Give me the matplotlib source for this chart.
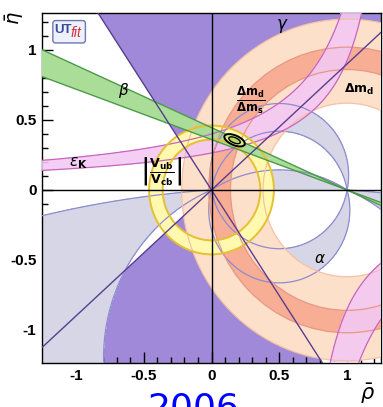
import numpy as np
import matplotlib.pyplot as plt
from matplotlib.patches import Wedge, Ellipse, FancyBboxPatch

# constraint values
gamma_deg = [42.0, 123.5]            # gamma band edges, angle seen from (0,0)
beta_deg = [19.8, 24.0]              # beta band edges, angle seen from (1,0)
alpha_bands = [(-22.7, -3.7), (78.0, 100.0), (-100.0, -74.0), (148.0, 180.0)]
dmd_r = [0.62, 1.22]                 # Delta m_d ring around (1,0)
dms_r = [0.86, 1.02]                 # Delta m_d / Delta m_s ring around (1,0)
vub_r = [0.36, 0.46]                 # |Vub/Vcb| ring around (0,0)
epsk_a = 1.40                        # eps_K band: eta*(a - rho) = b
epsk_b = [0.37, 0.56]
epsk2_a = 0.60                       # lower branch: -eta*(rho - a) = b
epsk2_b = [0.34, 0.60]
fit_center = (0.17, 0.355)
fit_sizes = [(0.16, 0.07), (0.09, 0.038)]
fit_angle = -22

major_ticks = [-1, -0.5, 0, 0.5, 1]
tick_labels = ['-1', '-0.5', '0', '0.5', '1']

c_gamma = '#9f89d8'
c_gamma_ln = '#5a3d8f'
c_alpha = '#d6d6e6'
c_alpha_ln = '#8c8cd0'
c_peach = '#fde0c9'
c_peach_ln = '#f2c2a6'
c_salmon = '#f8ad95'
c_salmon_ln = '#e69884'
c_eps = '#f3c9f3'
c_eps_ln = '#c865be'
c_yel = '#fff9b0'
c_yel_ln = '#e6bf35'
c_green = '#a9dd98'
c_green_ln = '#4d9a4a'

fig = plt.figure(figsize=(3.83, 4.07), dpi=100)
ax = fig.add_axes([42 / 383, 1 - 363 / 407, 339 / 383, 350 / 407])
ax.set_xlim(-1.25, 1.25)
ax.set_ylim(-1.236, 1.264)

# gamma wedges
for t0 in (0, 180):
    ax.add_patch(Wedge((0, 0), 4, gamma_deg[0] + t0, gamma_deg[1] + t0,
                       fc=c_gamma, ec='none', zorder=1))

# alpha regions
rho = np.linspace(-1.3, 1.3, 900)
eta = np.linspace(-1.3, 1.3, 900)
R, E = np.meshgrid(rho, eta)
P = R + 1j * E
with np.errstate(all='ignore'):
    alpha = np.degrees(np.angle((1 - P) / (-P)))
mask = np.zeros_like(R, dtype=bool)
for lo, hi in alpha_bands:
    mask |= (alpha >= lo) & (alpha <= hi)
ax.contourf(R, E, mask.astype(float), levels=[0.5, 1.5], colors=[c_alpha], zorder=2)

# Delta m_d and Delta m_d / Delta m_s rings
ax.add_patch(Wedge((1, 0), dmd_r[1], 0, 360, width=dmd_r[1] - dmd_r[0],
                   fc=c_peach, ec='none', zorder=3))
ax.add_patch(Wedge((1, 0), dms_r[1], 0, 360, width=dms_r[1] - dms_r[0],
                   fc=c_salmon, ec='none', zorder=4))

# eps_K
f1 = np.ma.masked_where(R >= epsk_a, E * (epsk_a - R))
f2 = np.ma.masked_where(R <= epsk2_a, -E * (R - epsk2_a))
eps_mask = ((f1.filled(-9) >= epsk_b[0]) & (f1.filled(-9) <= epsk_b[1])) | \
           ((f2.filled(-9) >= epsk2_b[0]) & (f2.filled(-9) <= epsk2_b[1]))
ax.contourf(R, E, eps_mask.astype(float), levels=[0.5, 1.5], colors=[c_eps],
            alpha=0.9, zorder=5)

# |Vub/Vcb|
ax.add_patch(Wedge((0, 0), vub_r[1], 0, 360, width=vub_r[1] - vub_r[0],
                   fc=c_yel, ec='none', zorder=6))

# sin 2beta
for th in ((180 - beta_deg[1], 180 - beta_deg[0]), (-beta_deg[1], -beta_deg[0])):
    ax.add_patch(Wedge((1, 0), 4, th[0], th[1], fc=c_green, ec='none', zorder=7))

# edges
alpha_ln = np.ma.masked_where(np.abs(alpha) > 170, alpha)
lv = sorted(set(v for b in alpha_bands for v in b if abs(v) < 179))
ax.contour(R, E, alpha_ln, levels=lv, colors=[c_alpha_ln], linewidths=0.9,
           linestyles='solid', zorder=8)
for r in dmd_r:
    ax.add_patch(plt.Circle((1, 0), r, fc='none', ec=c_peach_ln, lw=0.9, zorder=8))
for r in dms_r:
    ax.add_patch(plt.Circle((1, 0), r, fc='none', ec=c_salmon_ln, lw=0.9, zorder=8))
ax.contour(R, E, f1, levels=epsk_b, colors=[c_eps_ln], linewidths=0.9,
           linestyles='solid', zorder=8)
ax.contour(R, E, f2, levels=epsk2_b, colors=[c_eps_ln], linewidths=0.9,
           linestyles='solid', zorder=8)
for r in vub_r:
    ax.add_patch(plt.Circle((0, 0), r, fc='none', ec=c_yel_ln, lw=1.4, zorder=9))
for b in beta_deg:
    t = np.radians(180 - b)
    ax.plot([1 - 4 * np.cos(t), 1 + 4 * np.cos(t)], [-4 * np.sin(t), 4 * np.sin(t)],
            color=c_green_ln, lw=1.0, zorder=9)
for g in gamma_deg:
    t = np.radians(g)
    ax.plot([-4 * np.cos(t), 4 * np.cos(t)], [-4 * np.sin(t), 4 * np.sin(t)],
            color=c_gamma_ln, lw=1.0, zorder=9)

ax.axhline(0, color='black', lw=1.0, zorder=10)
ax.axvline(0, color='black', lw=1.0, zorder=10)

# fit result
ax.add_patch(Ellipse(fit_center, *fit_sizes[0], angle=fit_angle,
                     fc='#d9ea8c', ec='black', lw=1.4, zorder=11))
ax.add_patch(Ellipse(fit_center, *fit_sizes[1], angle=fit_angle,
                     fc='#bcd95a', ec='black', lw=1.0, zorder=12))

# labels
ax.text(0.52, 1.17, r'$\gamma$', fontsize=12, ha='center', va='center', zorder=13)
ax.text(-0.65, 0.71, r'$\beta$', fontsize=11, ha='center', va='center', zorder=13)
ax.text(-0.98, 0.19, r'$\varepsilon_{\mathbf{K}}$', fontsize=11, ha='center', va='center', zorder=13)
ax.text(0.80, -0.49, r'$\alpha$', fontsize=11, ha='center', va='center', zorder=13)
ax.text(1.09, 0.72, r'$\mathbf{\Delta m_d}$', fontsize=9, ha='center', va='center', zorder=13)
ax.text(0.29, 0.64, r'$\mathbf{\frac{\Delta m_d}{\Delta m_s}}$', fontsize=12,
        ha='center', va='center', zorder=13)
ax.text(-0.37, 0.13, r'$\left|\frac{\mathbf{V_{ub}}}{\mathbf{V_{cb}}}\right|$', fontsize=13,
        ha='center', va='center', zorder=13)

# UTfit logo
ax.add_patch(FancyBboxPatch((-1.165, 1.055), 0.23, 0.15,
                            boxstyle='round,pad=0.005,rounding_size=0.02',
                            fc='#eef0fa', ec='#6a78b4', lw=1.0, zorder=13))
ax.text(-1.16, 1.145, 'UT', fontsize=9.5, fontweight='bold', color='#3a4a9a',
        family='Liberation Sans', va='center', ha='left', zorder=14)
ax.text(-1.04, 1.12, 'fit', fontsize=10, style='italic', color='#d43040',
        family='Liberation Sans', va='center', ha='left', zorder=14)

# axes styling
ax.set_xticks(major_ticks)
ax.set_xticklabels(tick_labels)
ax.set_yticks(major_ticks)
ax.set_yticklabels(tick_labels)
ax.set_xticks(np.arange(-1.2, 1.25, 0.1), minor=True)
ax.set_yticks(np.arange(-1.2, 1.25, 0.1), minor=True)
ax.tick_params(which='both', direction='in', top=False, right=False, width=1.0)
ax.tick_params(which='major', length=8, pad=4)
ax.tick_params(which='minor', length=4)
for lab in ax.get_xticklabels() + ax.get_yticklabels():
    lab.set_fontfamily('Liberation Sans')
    lab.set_fontweight('bold')
    lab.set_fontsize(11)
for s in ax.spines.values():
    s.set_linewidth(1.0)

fig.text(15 / 383, 1 - 18 / 407, r'$\bar{\eta}$', fontsize=14, rotation=90,
         ha='center', va='center')
fig.text(368 / 383, 1 - 394 / 407, r'$\bar{\rho}$', fontsize=15, ha='center', va='center')
fig.text(0.506, 0.038, '2006', fontsize=26, color='blue', ha='center', va='top')

fig.savefig('out.png', dpi=100)
